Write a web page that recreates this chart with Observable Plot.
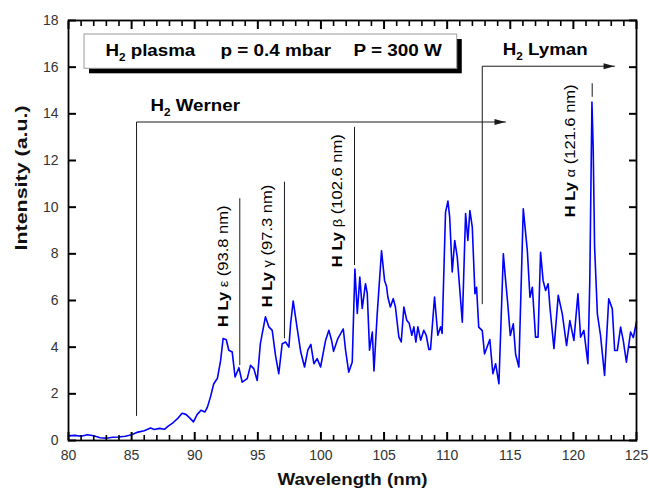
<!DOCTYPE html>
<html>
<head>
<meta charset="utf-8">
<script src="https://cdn.jsdelivr.net/npm/d3@7"></script>
<script src="https://cdn.jsdelivr.net/npm/@observablehq/plot@0.6"></script>
<style>
  html, body { margin: 0; padding: 0; background: #fff; }
  #chart svg { display: block; }
</style>
</head>
<body>
<div id="chart"></div>
<script>
// ---- Spectrum ----
const wavelength = [
  80.0, 80.5, 81.0, 81.5, 82.0, 82.5, 83.0, 83.5, 84.0, 84.5,
  85.0, 85.5, 86.0, 86.5, 86.8, 87.2, 87.6, 87.9, 88.3, 88.7,
  89.0, 89.3, 89.6, 89.9, 90.2, 90.5, 90.8, 91.0, 91.25, 91.5,
  91.8, 92.05, 92.25, 92.5, 92.7, 92.97, 93.2, 93.5, 93.76, 94.16,
  94.42, 94.68, 94.95, 95.2, 95.6, 95.87, 96.14, 96.4, 96.66, 96.93,
  97.2, 97.46, 97.6, 97.8, 98.1, 98.4, 98.7, 98.96, 99.2, 99.44,
  99.7, 99.97, 100.37, 100.63, 100.84, 101.0, 101.34, 101.77, 101.95, 102.2,
  102.48, 102.69, 102.88, 103.08, 103.27, 103.53, 103.67, 103.85, 104.07, 104.2,
  104.46, 104.8, 105.04, 105.2, 105.3, 105.5, 105.73, 105.9, 106.17, 106.36,
  106.57, 106.8, 107.0, 107.2, 107.36, 107.52, 107.68, 107.9, 108.15, 108.34,
  108.55, 108.68, 109.0, 109.26, 109.48, 109.6, 109.87, 110.06, 110.2, 110.4,
  110.6, 110.8, 111.2, 111.46, 111.64, 111.8, 111.99, 112.2, 112.33, 112.5,
  112.78, 112.96, 113.38, 113.62, 113.84, 114.1, 114.45, 114.63, 114.8, 115.0,
  115.24, 115.42, 115.68, 116.03, 116.35, 116.56, 116.75, 117.0, 117.2, 117.4,
  117.6, 117.8, 118.0, 118.14, 118.46, 118.8, 119.12, 119.46, 119.72, 120.04,
  120.36, 120.57, 120.83, 121.15, 121.3, 121.47, 121.57, 121.68, 121.9, 122.15,
  122.47, 122.8, 123.08, 123.27, 123.48, 123.74, 123.95, 124.2, 124.53, 124.75,
  125.0
];
const intensity = [
  0.20, 0.22, 0.18, 0.25, 0.20, 0.12, 0.10, 0.14, 0.15, 0.18,
  0.25, 0.36, 0.42, 0.54, 0.47, 0.52, 0.48, 0.62, 0.77, 0.97,
  1.17, 1.12, 0.97, 0.80, 1.12, 1.30, 1.22, 1.42, 1.87, 2.42,
  2.67, 3.42, 4.37, 4.32, 3.87, 3.79, 2.72, 3.12, 2.50, 2.65,
  3.22, 3.08, 2.57, 4.15, 5.30, 4.87, 4.72, 3.65, 2.86, 4.15,
  4.22, 4.00, 5.02, 5.98, 4.87, 3.79, 3.15, 3.87, 4.12, 3.29,
  3.51, 3.15, 4.30, 4.72, 4.30, 3.82, 4.37, 4.78, 3.87, 2.93,
  3.36, 7.35, 5.45, 7.00, 5.66, 6.72, 6.30, 3.87, 4.65, 2.98,
  5.45, 8.13, 6.86, 6.60, 6.15, 5.72, 6.08, 5.72, 4.44, 4.22,
  5.72, 5.15, 5.01, 4.51, 4.87, 4.22, 4.87, 4.30, 4.72, 4.51,
  3.90, 3.90, 6.15, 4.51, 4.87, 4.59, 9.78, 10.26, 9.57, 7.22,
  8.57, 7.86, 5.07, 9.73, 8.57, 9.85, 9.14, 6.29, 6.57, 4.86,
  4.71, 3.71, 4.33, 2.86, 3.29, 2.43, 8.00, 6.86, 5.86, 4.50,
  5.00, 3.71, 3.15, 9.93, 8.14, 6.14, 6.57, 4.43, 4.43, 8.07,
  6.86, 6.43, 6.72, 5.72, 3.94, 6.22, 5.43, 4.07, 5.14, 4.29,
  6.29, 4.43, 4.72, 3.29, 6.86, 14.50, 12.50, 8.30, 5.43, 4.50,
  2.79, 6.07, 5.65, 3.86, 3.86, 4.86, 4.29, 3.36, 4.65, 4.41,
  5.10
];

// ---- Axes ----
const xDomain = [80, 125];
const yDomain = [0, 18];
const xMajor = [80, 85, 90, 95, 100, 105, 110, 115, 120, 125];
const xMinor = d3.range(80, 126).filter(v => v % 5 !== 0);
const yMajor = [0, 2, 4, 6, 8, 10, 12, 14, 16, 18];
const xTitle = "Wavelength (nm)";
const yTitle = "Intensity (a.u.)";

// ---- Legend box ----
const legendParts = ["H₂ plasma", "p = 0.4 mbar", "P = 300 W"];
const legendX = [82.93, 92.04, 102.58];
const legendY = [16.68, 16.68, 16.68];
const legendBox = [{x1: 81.27, x2: 110.80, y1: 15.93, y2: 17.40}];

// ---- Band arrows ----
const bandNames = ["H₂ Werner", "H₂ Lyman"];
const bandLabelX = [86.5, 114.41];
const bandLabelY = [14.36, 16.74];
const wernerX = [85.39, 85.39, 114.62];
const wernerY = [1.07, 13.65, 13.65];
const lymanX = [112.78, 112.78, 123.26];
const lymanY = [5.86, 16.04, 16.04];

// ---- Hydrogen Lyman lines ----
const peakGreek = ["ε", "γ", "β", "α"];
const peakNm = ["93.8", "97.3", "102.6", "121.6"];
const peakLabelX = [92.28, 95.74, 101.29, 119.77];
const peakLabelY = [4.86, 5.71, 7.43, 9.57];
const peakLineX = [93.57, 97.11, 102.66, 121.49];
const peakLineTop = [10.36, 11.07, 13.42, 15.29];
const peakLineBottom = [3.21, 4.36, 7.50, 14.71];

const peakText = peakGreek.map((g, i) => `H Ly ${g} (${peakNm[i]} nm)`);
const arrowTips = [[wernerX[2], wernerY[2]], [lymanX[2], lymanY[2]]];
const arrowHead = {
  draw(ctx) {
    ctx.moveTo(0, 0);
    ctx.lineTo(-11, -3);
    ctx.lineTo(-11, 3);
    ctx.closePath();
  }
};
const ink = "#1a1a1a";

const svg = Plot.plot({
  width: 649,
  height: 493,
  marginLeft: 68,
  marginRight: 13,
  marginTop: 20,
  marginBottom: 53,
  x: {domain: xDomain},
  y: {domain: yDomain},
  style: {fontFamily: "'Liberation Sans', Arial, Helvetica, sans-serif", fontSize: "14px", background: "#fff", color: "#000"},
  marks: [
    // legend box with shadow
    Plot.rect(legendBox, {x1: "x1", x2: "x2", y1: "y1", y2: "y2", fill: "#000", dx: 5, dy: 5}),
    Plot.rect(legendBox, {x1: "x1", x2: "x2", y1: "y1", y2: "y2", fill: "#fff", stroke: "#9a9a9a", strokeWidth: 1}),
    Plot.text(legendParts, {x: legendX, y: legendY, textAnchor: "start", fontWeight: "bold", fontSize: 16, fill: "#000"}),

    // spectrum
    Plot.line(wavelength, {x: wavelength, y: intensity, stroke: "#0000ff", strokeWidth: 1.6}),

    // band arrows
    Plot.line(wernerX.map((x, i) => [x, wernerY[i]]), {stroke: ink, strokeWidth: 1}),
    Plot.line(lymanX.map((x, i) => [x, lymanY[i]]), {stroke: ink, strokeWidth: 1}),
    Plot.dot(arrowTips, {symbol: arrowHead, fill: ink, stroke: null, r: 4}),
    Plot.text(bandNames, {x: bandLabelX, y: bandLabelY, textAnchor: "start", fontWeight: "bold", fontSize: 16, fill: "#000"}),

    // Lyman line markers
    Plot.ruleX(peakLineX, {y1: peakLineBottom, y2: peakLineTop, stroke: ink, strokeWidth: 1}),
    Plot.text(peakText, {x: peakLabelX, y: peakLabelY, rotate: -90, textAnchor: "start", lineAnchor: "middle", fontSize: 14, fill: "#000"}),

    // axes: tick labels
    Plot.axisX(xMajor, {anchor: "bottom", tickSize: 0, tickPadding: 10, fontSize: 14, fill: "#333", label: null}),
    Plot.axisY(yMajor, {anchor: "left", tickSize: 0, tickPadding: 10, fontSize: 14, fill: "#333", label: null}),

    // inward ticks on all four sides
    Plot.axisX(xMajor, {anchor: "bottom", tickSize: -8, fill: "none", stroke: "#000", strokeWidth: 2}),
    Plot.axisX(xMinor, {anchor: "bottom", tickSize: -5, fill: "none", stroke: "#000", strokeWidth: 1.6}),
    Plot.axisX(xMajor, {anchor: "top", tickSize: -8, fill: "none", stroke: "#000", strokeWidth: 2}),
    Plot.axisX(xMinor, {anchor: "top", tickSize: -5, fill: "none", stroke: "#000", strokeWidth: 1.6}),
    Plot.axisY(yMajor, {anchor: "left", tickSize: -8, fill: "none", stroke: "#000", strokeWidth: 2}),
    Plot.axisY(yMajor, {anchor: "right", tickSize: -8, fill: "none", stroke: "#000", strokeWidth: 2}),
    Plot.frame({stroke: "#000", strokeWidth: 1.8}),

    // axis titles
    Plot.text([xTitle], {frameAnchor: "bottom", dy: 44, fontWeight: "bold", fontSize: 17, fill: "#111"}),
    Plot.text([yTitle], {frameAnchor: "left", dx: -47, dy: 20, rotate: -90, fontWeight: "bold", fontSize: 17, fill: "#111"})
  ]
});

document.getElementById("chart").append(svg);

// ---- text styling: subscripts, mixed weights, glyph width ----
const SVGNS = "http://www.w3.org/2000/svg";
function tspan(text, attrs) {
  const ts = document.createElementNS(SVGNS, "tspan");
  ts.textContent = text;
  for (const k in attrs) ts.setAttribute(k, attrs[k]);
  return ts;
}
function stretch(t, f) {
  const L = t.getComputedTextLength();
  t.setAttribute("textLength", (L * f).toFixed(1));
  t.setAttribute("lengthAdjust", "spacingAndGlyphs");
}
svg.querySelectorAll("text").forEach(t => {
  if (t.querySelector("tspan")) return;
  const s = t.textContent;
  if (s.includes("₂")) {
    const [a, b] = s.split("₂");
    t.textContent = "";
    t.append(tspan(a, {}), tspan("2", {"font-size": "10", dy: "5"}), tspan(b, {dy: "-5"}));
    stretch(t, 1.17);
  } else if (s.startsWith("H Ly ")) {
    const rest = s.slice(5);
    t.textContent = "";
    t.append(tspan("H Ly ", {"font-weight": "bold"}), tspan(rest[0], {"font-size": "12.5"}), tspan(rest.slice(1), {}));
    stretch(t, 1.18);
  } else if (legendParts.includes(s)) {
    stretch(t, 1.18);
  } else if (s === xTitle) {
    stretch(t, 1.1);
  } else if (s === yTitle) {
    stretch(t, 1.26);
  }
});
</script>
</body>
</html>
